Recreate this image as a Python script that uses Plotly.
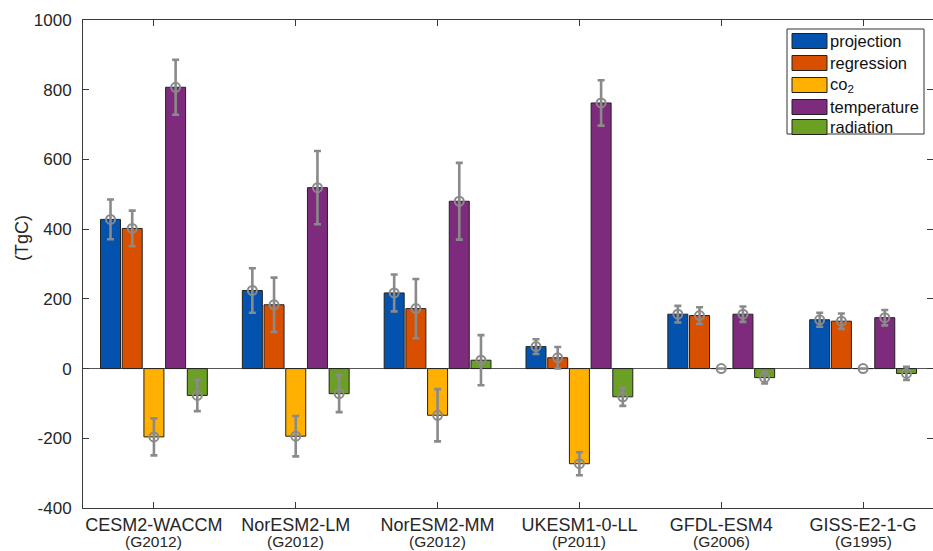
import plotly.graph_objects as go

# ---------------- data ----------------
models = ["CESM2-WACCM", "NorESM2-LM", "NorESM2-MM", "UKESM1-0-LL", "GFDL-ESM4", "GISS-E2-1-G"]
refs = ["(G2012)", "(G2012)", "(G2012)", "(P2011)", "(G2006)", "(G1995)"]
series_names = ["projection", "regression", "co<sub>2</sub>", "temperature", "radiation"]

projection = [428, 224, 217, 63, 156, 140]
projection_err = [57, 64, 53, 21, 24, 20]
regression = [402, 183, 172, 31, 152, 136]
regression_err = [51, 78, 85, 31, 24, 22]
co2 = [-196, -194, -134, -273, 0, 0]
co2_err = [53, 58, 75, 33, 0, 0]
temperature = [807, 519, 480, 762, 156, 146]
temperature_err = [79, 105, 110, 65, 22, 22]
radiation = [-77, -72, 24, -81, -26, -14]
radiation_err = [45, 53, 72, 26, 17, 19]

yticks = [-400, -200, 0, 200, 400, 600, 800, 1000]
yticklabels = ["-400", "-200", "0", "200", "400", "600", "800", "1000"]

# ---------------- style ----------------
colors = ["#0352AE", "#D94F00", "#FFB000", "#7E2B7E", "#6CA024"]
values = [projection, regression, co2, temperature, radiation]
errors = [projection_err, regression_err, co2_err, temperature_err, radiation_err]
FONT = "Liberation Sans, Arial, sans-serif"
TXT = "#262626"
AX = "#3a3a3a"
pitch = 0.153
bar_w = 0.141

W, H = 933, 551
L, R, T, B = 83, 0, 20, 43

fig = go.Figure()
idx = list(range(len(models)))
for k, (name, vals, errs, col) in enumerate(zip(series_names, values, errors, colors)):
    xs = [i + (k - 2) * pitch for i in idx]
    fig.add_trace(go.Bar(
        x=xs, y=vals, width=bar_w, name=name,
        marker=dict(color=col, line=dict(color="#222222", width=1)),
        showlegend=False,
    ))
for k, (name, vals, errs) in enumerate(zip(series_names, values, errors)):
    xs = [i + (k - 2) * pitch for i in idx]
    fig.add_trace(go.Scatter(
        x=xs, y=vals, mode="markers", showlegend=False,
        marker=dict(symbol="circle-open", size=9, color="#8a8a8a", line=dict(width=2, color="#8a8a8a")),
        error_y=dict(type="data", array=errs, visible=True, color="#8a8a8a", thickness=2.6, width=3.5),
        hoverinfo="skip",
    ))

fig.update_layout(
    width=W, height=H,
    margin=dict(l=L, r=R, t=T, b=B, pad=0, autoexpand=False),
    paper_bgcolor="white", plot_bgcolor="white",
    barmode="overlay",
    font=dict(family=FONT, color=TXT, size=17),
    xaxis=dict(
        range=[-0.5, 5.493], tickmode="array", tickvals=idx, ticktext=models,
        showline=True, linecolor=AX, linewidth=1, mirror="allticks",
        ticks="inside", ticklen=6, tickcolor=AX, showgrid=False, zeroline=False,
        tickfont=dict(size=18, color=TXT), automargin=False, ticklabelstandoff=0,
    ),
    yaxis=dict(
        range=[-400, 1000], tickmode="array", tickvals=yticks, ticktext=yticklabels,
        showline=True, linecolor=AX, linewidth=1, mirror="allticks",
        ticks="inside", ticklen=6, tickcolor=AX, showgrid=False,
        zeroline=True, zerolinecolor="#555555", zerolinewidth=1,
        tickfont=dict(size=17, color=TXT), ticklabelstandoff=7, automargin=False,
    ),
)

def px_x(p):
    return (p - L) / (W - L - R)

def px_y(p):
    return (H - B - p) / (H - T - B)

# second line of category labels (reference keys)
for i, r in zip(idx, refs):
    fig.add_annotation(text=r, xref="x", yref="paper", x=i, y=px_y(541),
                       xanchor="center", yanchor="middle", showarrow=False,
                       font=dict(size=15.5, color=TXT), borderpad=0)

# y axis title
fig.add_annotation(text="(TgC)", xref="paper", yref="paper",
                   x=px_x(22), y=px_y(238),
                   textangle=-90, showarrow=False, font=dict(size=18, color=TXT),
                   xanchor="center", yanchor="middle")

# legend (drawn as a box with swatches)
fig.add_shape(type="rect", xref="paper", yref="paper",
              x0=px_x(787), x1=px_x(924), y0=px_y(134), y1=px_y(29),
              line=dict(color="#333333", width=1), fillcolor="white", layer="above")
centers = [41, 63, 85, 107, 127]
for name, col, cy in zip(series_names, colors, centers):
    fig.add_shape(type="rect", xref="paper", yref="paper",
                  x0=px_x(792), x1=px_x(827), y0=px_y(cy + 7.5), y1=px_y(cy - 7.5),
                  line=dict(color="#222222", width=1), fillcolor=col, layer="above")
    fig.add_annotation(text=name, xref="paper", yref="paper",
                       x=px_x(828), y=px_y(cy), xanchor="left", yanchor="middle",
                       showarrow=False, font=dict(size=16.5, color="#111111"))

fig.write_html("out.html")
